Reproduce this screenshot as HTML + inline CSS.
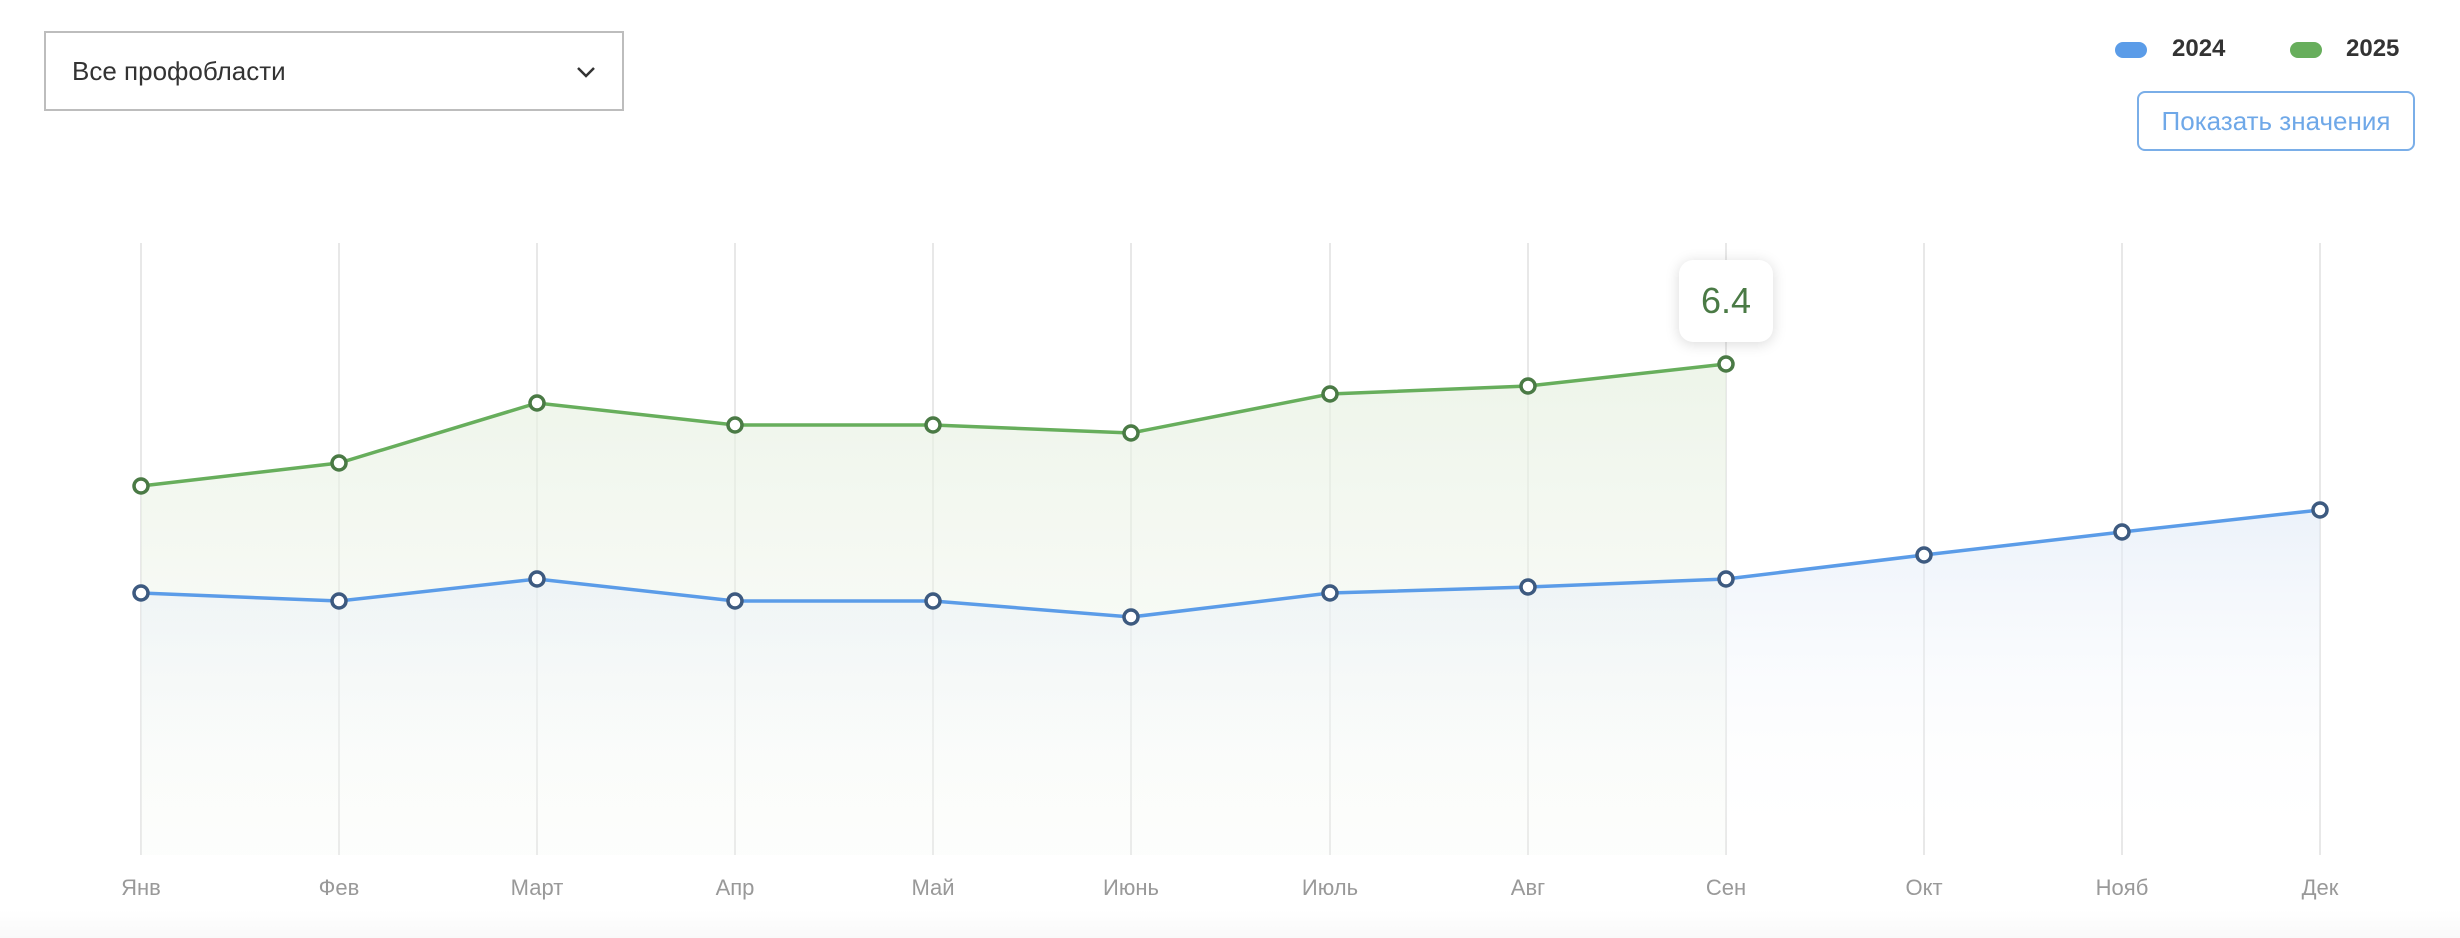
<!DOCTYPE html>
<html><head><meta charset="utf-8"><style>
html,body{margin:0;padding:0;background:#fff;width:2460px;height:938px;overflow:hidden;font-family:"Liberation Sans",Arial,sans-serif}
.dd{position:absolute;left:44px;top:31px;width:576px;height:76px;border:2px solid #bdbdbd;box-sizing:content-box}
.dd span{position:absolute;left:26px;top:23px;font-size:26px;color:#333}
.leg{position:absolute;top:35px;font-size:24px;font-weight:bold;color:#333}
.pill{position:absolute;top:42px;width:32px;height:16px;border-radius:8px}
.btn{position:absolute;left:2137px;top:91px;width:274px;height:56px;border:2px solid #7aaee8;border-radius:8px;color:#6fa8e8;font-size:26px;text-align:center;line-height:56px}
.tip{position:absolute;left:1679px;top:260px;width:94px;height:82px;background:#fff;border-radius:14px;box-shadow:0 2px 14px rgba(0,0,0,.15);text-align:center;line-height:82px;font-size:36px;color:#4a7a45}
</style></head><body>
<div class="dd"><span>Все профобласти</span>
<svg style="position:absolute;left:529px;top:32px" width="22" height="14"><polyline points="3,3 11,11 19,3" fill="none" stroke="#333" stroke-width="2.5"/></svg></div>
<div class="pill" style="left:2115px;background:#5b9ce8"></div><div class="leg" style="left:2172px">2024</div>
<div class="pill" style="left:2290px;background:#67ae5c"></div><div class="leg" style="left:2346px">2025</div>
<div class="btn">Показать значения</div>
<svg style="position:absolute;left:0;top:0" width="2460" height="938">
<defs>
<linearGradient id="gb" x1="0" y1="0" x2="0" y2="1"><stop offset="0" stop-color="#dfe9f6" stop-opacity=".6"/><stop offset="1" stop-color="#fff" stop-opacity="0"/></linearGradient>
<linearGradient id="gg" x1="0" y1="0" x2="0" y2="1"><stop offset="0" stop-color="#e6f0e0" stop-opacity=".7"/><stop offset="1" stop-color="#f3f7f0" stop-opacity=".2"/></linearGradient>
<linearGradient id="sh" x1="0" y1="0" x2="0" y2="1"><stop offset="0" stop-color="#fff"/><stop offset="1" stop-color="#f9f9f9"/></linearGradient>
</defs>
<rect x="0" y="910" width="2460" height="28" fill="url(#sh)"/>
<g stroke="#e8e8e8" stroke-width="2">
<line x1="141" y1="243" x2="141" y2="855"/><line x1="339" y1="243" x2="339" y2="855"/><line x1="537" y1="243" x2="537" y2="855"/><line x1="735" y1="243" x2="735" y2="855"/><line x1="933" y1="243" x2="933" y2="855"/><line x1="1131" y1="243" x2="1131" y2="855"/><line x1="1330" y1="243" x2="1330" y2="855"/><line x1="1528" y1="243" x2="1528" y2="855"/><line x1="1726" y1="243" x2="1726" y2="855"/><line x1="1924" y1="243" x2="1924" y2="855"/><line x1="2122" y1="243" x2="2122" y2="855"/><line x1="2320" y1="243" x2="2320" y2="855"/>
</g>
<polygon fill="url(#gg)" points="141,486 339,463 537,403 735,425 933,425 1131,433 1330,394 1528,386 1726,364 1726,855 141,855"/>
<polygon fill="url(#gb)" points="141,593 339,601 537,579 735,601 933,601 1131,617 1330,593 1528,587 1726,579 1924,555 2122,532 2320,510 2320,855 141,855"/>
<polyline fill="none" stroke="#67ae5c" stroke-width="3.5" points="141,486 339,463 537,403 735,425 933,425 1131,433 1330,394 1528,386 1726,364"/>
<polyline fill="none" stroke="#5b9ce8" stroke-width="3.5" points="141,593 339,601 537,579 735,601 933,601 1131,617 1330,593 1528,587 1726,579 1924,555 2122,532 2320,510"/>
<g fill="#fff" stroke="#4a7a45" stroke-width="3.5">
<circle cx="141" cy="486" r="7"/><circle cx="339" cy="463" r="7"/><circle cx="537" cy="403" r="7"/><circle cx="735" cy="425" r="7"/><circle cx="933" cy="425" r="7"/><circle cx="1131" cy="433" r="7"/><circle cx="1330" cy="394" r="7"/><circle cx="1528" cy="386" r="7"/><circle cx="1726" cy="364" r="7"/></g>
<g fill="#fff" stroke="#3d5a80" stroke-width="3.5">
<circle cx="141" cy="593" r="7"/><circle cx="339" cy="601" r="7"/><circle cx="537" cy="579" r="7"/><circle cx="735" cy="601" r="7"/><circle cx="933" cy="601" r="7"/><circle cx="1131" cy="617" r="7"/><circle cx="1330" cy="593" r="7"/><circle cx="1528" cy="587" r="7"/><circle cx="1726" cy="579" r="7"/><circle cx="1924" cy="555" r="7"/><circle cx="2122" cy="532" r="7"/><circle cx="2320" cy="510" r="7"/></g>
<g font-family="Liberation Sans, sans-serif" font-size="22" fill="#999" text-anchor="middle">
<text x="141" y="895">Янв</text><text x="339" y="895">Фев</text><text x="537" y="895">Март</text><text x="735" y="895">Апр</text><text x="933" y="895">Май</text><text x="1131" y="895">Июнь</text><text x="1330" y="895">Июль</text><text x="1528" y="895">Авг</text><text x="1726" y="895">Сен</text><text x="1924" y="895">Окт</text><text x="2122" y="895">Нояб</text><text x="2320" y="895">Дек</text>
</g>
</svg>
<div class="tip">6.4</div>
</body></html>
